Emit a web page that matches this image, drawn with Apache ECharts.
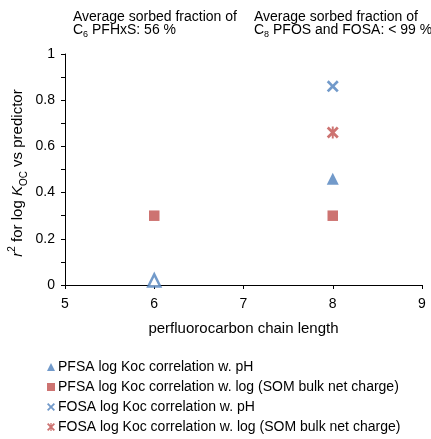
<!DOCTYPE html>
<html><head><meta charset="utf-8">
<script src="https://cdn.jsdelivr.net/npm/echarts@6/dist/echarts.min.js"></script>
<style>html,body{margin:0;padding:0;background:#fff}#c{width:431px;height:439px}</style>
</head><body><div id="c"></div>
<script>
const seriesNames = [
  'PFSA log Koc correlation w. pH',
  'PFSA log Koc correlation w. log (SOM bulk net charge)',
  'FOSA log Koc correlation w. pH',
  'FOSA log Koc correlation w. log (SOM bulk net charge)'
];
const pfsaPH = [[6, 0.02], [8, 0.46]];
const pfsaCharge = [[6, 0.30], [8, 0.30]];
const fosaPH = [[8, 0.86]];
const fosaCharge = [[8, 0.66]];
const xTicks = [5, 6, 7, 8, 9];
const yTicks = [0, 0.2, 0.4, 0.6, 0.8, 1];

const BLUE = '#4F81BD', RED = '#C0504D';
const X_PATH = 'path://M0,1.6 L1.6,0 L5,3.4 L8.4,0 L10,1.6 L6.6,5 L10,8.4 L8.4,10 L5,6.6 L1.6,10 L0,8.4 L3.4,5 Z';
const STAR_PATH = 'path://M0,1.6 L1.6,0 L5,3.4 L8.4,0 L10,1.6 L6.6,5 L10,8.4 L8.4,10 L5,6.6 L1.6,10 L0,8.4 L3.4,5 Z M4.2,0 L5.8,0 L5.8,10 L4.2,10 Z';
const FONT = 'Liberation Sans, Arial, sans-serif';

const chart = echarts.init(document.getElementById('c'), null, {renderer: 'canvas'});
const rich = {
  n: {fontSize: 14, fontFamily: FONT, color: '#000', lineHeight: 18, verticalAlign: 'middle'},
  sub: {fontSize: 9, fontFamily: FONT, color: '#000', lineHeight: 9, verticalAlign: 'bottom'}
};
const yRich = {
  n: {fontSize: 15, fontFamily: FONT, color: '#000', lineHeight: 22, verticalAlign: 'middle'},
  sub: {fontSize: 10, fontFamily: FONT, color: '#000', lineHeight: 10, verticalAlign: 'bottom'},
  sup: {fontSize: 10, fontFamily: FONT, color: '#000', lineHeight: 13, verticalAlign: 'top'},
  i: {fontSize: 15, fontFamily: FONT, fontStyle: 'italic', color: '#000', lineHeight: 22, verticalAlign: 'middle'}
};

chart.setOption({
  animation: false,
  backgroundColor: '#fff',
  grid: {left: 65, right: 9, top: 54, bottom: 154},
  xAxis: {
    type: 'value', min: 5, max: 9, interval: 1,
    name: 'perfluorocarbon chain length', nameLocation: 'middle', nameGap: 36,
    nameTextStyle: {fontSize: 15, fontFamily: FONT, color: '#000'},
    axisLine: {lineStyle: {color: '#000', width: 1}},
    axisTick: {show: true, inside: false, length: 4, lineStyle: {color: '#000'}},
    axisLabel: {fontSize: 14, fontFamily: FONT, color: '#000', margin: 12,
      formatter: v => xTicks.includes(v) ? String(v) : ''},
    splitLine: {show: false}
  },
  yAxis: {
    type: 'value', min: 0, max: 1, interval: 0.2,
    axisLine: {show: true, lineStyle: {color: '#000', width: 1}},
    axisTick: {show: true, inside: false, length: 4, lineStyle: {color: '#000'}},
    minorTick: {show: true, splitNumber: 2, length: 4, lineStyle: {color: '#000'}},
    axisLabel: {fontSize: 14, fontFamily: FONT, color: '#000', margin: 10,
      formatter: v => String(Math.round(v * 10) / 10)},
    splitLine: {show: false}
  },
  legend: {
    type: 'plain', orient: 'vertical', left: 47, top: 360, padding: 0, itemGap: 6,
    itemWidth: 8, itemHeight: 8,
    textStyle: {fontSize: 14, lineHeight: 14, fontFamily: FONT, color: '#000', padding: [0, 0, 0, -2]},
    data: [
      {name: seriesNames[0], icon: 'triangle'},
      {name: seriesNames[1], icon: 'rect'},
      {name: seriesNames[2], icon: X_PATH},
      {name: seriesNames[3], icon: STAR_PATH}
    ]
  },
  graphic: [
    {type: 'text', left: 73, top: 10, style: {text: '{n|Average sorbed fraction of}', rich: rich}},
    {type: 'text', left: 73, top: 23, style: {text: '{n|C}{sub|6}{n| PFHxS: 56 %}', rich: rich}},
    {type: 'text', left: 254, top: 10, style: {text: '{n|Average sorbed fraction of}', rich: rich}},
    {type: 'text', left: 254, top: 23, style: {text: '{n|C}{sub|8}{n| PFOS and FOSA: < 99 %}', rich: rich}},
    {type: 'text', x: 18, y: 173, rotation: Math.PI / 2, originX: 0, originY: 0,
      style: {text: '{i|r}{sup|2}{n| for log }{i|K}{sub|OC}{n| vs predictor}', rich: yRich, align: 'center', verticalAlign: 'middle'}}
  ],
  series: [
    {name: seriesNames[0], type: 'scatter', symbol: 'triangle', symbolSize: 12,
      itemStyle: {color: BLUE},
      data: pfsaPH.map((d, k) => k === 0 ? {value: d, itemStyle: {color: '#fff', borderColor: BLUE, borderWidth: 2.5}} : {value: d})},
    {name: seriesNames[1], type: 'scatter', symbol: 'rect', symbolSize: 10.5,
      itemStyle: {color: RED}, data: pfsaCharge},
    {name: seriesNames[2], type: 'scatter', symbol: X_PATH, symbolSize: 12,
      itemStyle: {color: BLUE}, data: fosaPH},
    {name: seriesNames[3], type: 'scatter', symbol: STAR_PATH, symbolSize: 12,
      itemStyle: {color: RED}, data: fosaCharge}
  ]
});
</script></body></html>
